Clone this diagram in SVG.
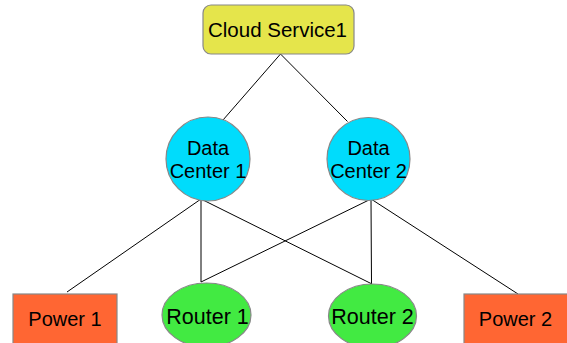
<svg xmlns="http://www.w3.org/2000/svg" width="567" height="343" viewBox="0 0 567 343">
<style>
.n{stroke:#888888;stroke-width:1.2}
.cloud{fill:#e5e54b}
.dc{fill:#00dcfc}
.rt{fill:#42ea42}
.pw{fill:#ff6633}
.t{font-family:"Liberation Sans",Arial,sans-serif;font-size:20px;fill:#000;text-anchor:middle}
.e{stroke:#000;stroke-width:1;fill:none}
</style>
<rect width="567" height="343" fill="#ffffff"/>
<g id="connectors">
<line class="e" x1="280.5" y1="54" x2="223" y2="120"/>
<line class="e" x1="280.5" y1="54" x2="347.5" y2="121.5"/>
<line class="e" x1="201" y1="199" x2="67" y2="292"/>
<line class="e" x1="201" y1="199" x2="201" y2="282"/>
<line class="e" x1="201" y1="199" x2="372" y2="284"/>
<line class="e" x1="371" y1="199" x2="201" y2="282"/>
<line class="e" x1="371" y1="199" x2="371.5" y2="284"/>
<line class="e" x1="371" y1="199" x2="518" y2="294"/>
</g>
<g id="cloud">
<rect class="n cloud" x="203" y="5" width="151" height="49" rx="8"/>
<text class="t" x="277.5" y="37" style="font-size:20.5px">Cloud Service1</text>
</g>
<g id="dc1">
<circle class="n dc" cx="208" cy="159" r="42"/>
<text class="t" x="208" y="155">Data</text>
<text class="t" x="208" y="178">Center 1</text>
</g>
<g id="dc2">
<circle class="n dc" cx="368.5" cy="159" r="41.5"/>
<text class="t" x="368.5" y="155">Data</text>
<text class="t" x="368.5" y="178">Center 2</text>
</g>
<g id="power1">
<rect class="n pw" x="13" y="294" width="104" height="52"/>
<text class="t" x="65" y="326">Power 1</text>
</g>
<g id="router1">
<ellipse class="n rt" cx="206.5" cy="315" rx="44.5" ry="32"/>
<text class="t" x="207.5" y="323.5" style="font-size:21.5px">Router 1</text>
</g>
<g id="router2">
<ellipse class="n rt" cx="372.5" cy="316" rx="44" ry="32"/>
<text class="t" x="372.5" y="323.5" style="font-size:21.5px">Router 2</text>
</g>
<g id="power2">
<rect class="n pw" x="464" y="294" width="104" height="52"/>
<text class="t" x="515.5" y="326">Power 2</text>
</g>
</svg>
